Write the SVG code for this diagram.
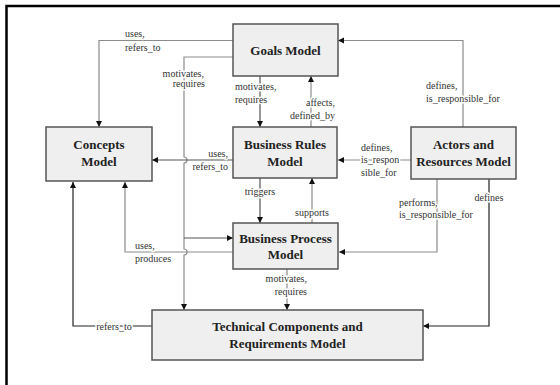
<svg xmlns="http://www.w3.org/2000/svg" width="560" height="385" viewBox="0 0 560 385">
<defs>
<marker id="ah" markerUnits="userSpaceOnUse" markerWidth="7" markerHeight="7" refX="6" refY="3" orient="auto">
<path d="M0,0 L6,3 L0,6 z" fill="#111"/>
</marker>
<style>
.box{fill:#efefef;stroke:#555;stroke-width:1.5}
.bt{font-family:"Liberation Serif",serif;font-weight:bold;font-size:13px;fill:#222;text-anchor:middle}
.ln{fill:none;stroke:#8c8c8c;stroke-width:1.2;marker-end:url(#ah)}
.dk{stroke:#555}
.bk{stroke:#222}
.lb{font-family:"Liberation Serif",serif;font-size:10px;fill:#333;stroke:#fff;stroke-width:3px;paint-order:stroke;stroke-linejoin:round}
.m{text-anchor:middle}
.e{text-anchor:end}
</style>
</defs>
<rect width="560" height="385" fill="#fff"/>
<path d="M6.5,385 V6 H560" fill="none" stroke="#000" stroke-width="2.5"/>

<g id="connectors">
<path class="ln" d="M233,40.5 H99 V127"/>
<path class="ln" d="M233,57 H184 V157 a3,3 0 0 1 0,6 V249 a3,3 0 0 1 0,6 V310"/>
<path class="ln dk" d="M184,238 H233"/>
<path class="ln dk" d="M260,76 V127"/>
<path class="ln" d="M311,127 V76"/>
<path class="ln dk" d="M233,160 H152"/>
<path class="ln" d="M463,127 V40.5 H338"/>
<path class="ln" d="M411,160 H338"/>
<path class="ln" d="M437,179 V252 H339"/>
<path class="ln bk" d="M489,179 V326 H423"/>
<path class="ln dk" d="M260,178 V223"/>
<path class="ln" d="M312,223 V178"/>
<path class="ln" d="M233,252 H125 V182"/>
<path class="ln bk" d="M152,326 H73 V182"/>
<path class="ln" d="M287,269 V310"/>

<text class="lb" x="125" y="36.5">uses,</text>
<text class="lb" x="125" y="50.5">refers_to</text>
<text class="lb e" x="204" y="76.5">motivates,</text>
<text class="lb e" x="205" y="87">requires</text>
<text class="lb" x="235" y="89.5">motivates,</text>
<text class="lb" x="235" y="103">requires</text>
<text class="lb e" x="335" y="105.5">affects,</text>
<text class="lb e" x="335" y="118.5">defined_by</text>
<text class="lb e" x="228" y="156.5">uses,</text>
<text class="lb e" x="228" y="169.5">refers_to</text>
<text class="lb" x="426" y="88.5">defines,</text>
<text class="lb" x="426" y="101.5">is_responsible_for</text>
<text class="lb" x="361" y="150.5">defines,</text>
<text class="lb" x="361" y="162.5">is_respon</text>
<text class="lb" x="361" y="176">sible_for</text>
<text class="lb" x="399" y="205.5">performs,</text>
<text class="lb" x="399" y="217.5">is_responsible_for</text>
<text class="lb m" x="489" y="200.5">defines</text>
<text class="lb m" x="260" y="194.5">triggers</text>
<text class="lb m" x="312" y="215.5">supports</text>
<text class="lb" x="135" y="248.5">uses,</text>
<text class="lb" x="135" y="261.5">produces</text>
<text class="lb m" x="114" y="329.5">refers_to</text>
<text class="lb e" x="307" y="281.5">motivates,</text>
<text class="lb e" x="307" y="295">requires</text>
</g>

<g id="goals">
<rect class="box" x="233" y="24" width="105" height="52"/>
<text class="bt" x="285.5" y="55">Goals Model</text>
</g>
<g id="concepts">
<rect class="box" x="46" y="127" width="106" height="54"/>
<text class="bt" x="99" y="149">Concepts</text>
<text class="bt" x="99" y="166">Model</text>
</g>
<g id="business-rules">
<rect class="box" x="233" y="127" width="104" height="51"/>
<text class="bt" x="285" y="149">Business Rules</text>
<text class="bt" x="285" y="166">Model</text>
</g>
<g id="actors">
<rect class="box" x="411" y="127" width="105" height="52"/>
<text class="bt" x="463.5" y="149">Actors and</text>
<text class="bt" x="463.5" y="166">Resources Model</text>
</g>
<g id="business-process">
<rect class="box" x="233" y="223" width="105" height="46"/>
<text class="bt" x="285.5" y="243">Business Process</text>
<text class="bt" x="285.5" y="259">Model</text>
</g>
<g id="technical">
<rect class="box" x="152" y="310" width="271" height="50"/>
<text class="bt" x="287.5" y="331">Technical Components and</text>
<text class="bt" x="287.5" y="348">Requirements Model</text>
</g>
</svg>
